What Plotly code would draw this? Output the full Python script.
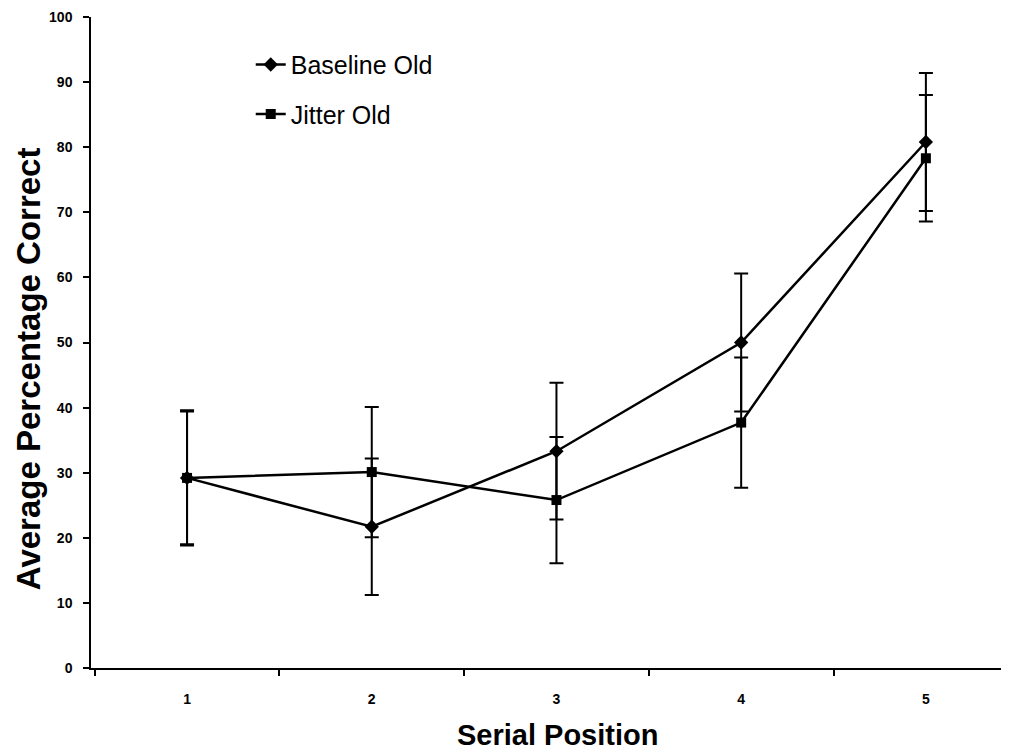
import plotly.graph_objects as go

positions = ["1", "2", "3", "4", "5"]
baseline_old = [29.2, 21.7, 33.3, 50.0, 80.8]
baseline_err = [10.4, 10.5, 10.5, 10.6, 10.6]
jitter_old = [29.2, 30.1, 25.8, 37.7, 78.3]
jitter_err = [10.2, 10.0, 9.7, 10.0, 9.7]
y_ticks = [0, 10, 20, 30, 40, 50, 60, 70, 80, 90, 100]

FONT = "Arial, Liberation Sans, Helvetica, sans-serif"

fig = go.Figure()
fig.add_trace(go.Scatter(
    x=positions, y=baseline_old, name="Baseline Old", mode="lines+markers",
    line=dict(color="black", width=2.5),
    marker=dict(symbol="diamond", size=11, color="black"),
    error_y=dict(type="data", array=baseline_err, visible=True,
                 color="black", thickness=2, width=7),
    legendgroup="a",
))
fig.add_trace(go.Scatter(
    x=positions, y=jitter_old, name="Jitter Old", mode="lines+markers",
    line=dict(color="black", width=2.5),
    marker=dict(symbol="square", size=10, color="black"),
    error_y=dict(type="data", array=jitter_err, visible=True,
                 color="black", thickness=2, width=7),
    legendgroup="b",
))

# page body has an 8px margin, so the figure is sized/offset to compensate
fig.update_layout(
    width=1001, height=745,
    margin=dict(l=83, r=0, t=9, b=85),
    paper_bgcolor="white", plot_bgcolor="white",
    font=dict(family=FONT, color="black"),
    showlegend=True,
    legend=dict(x=0.174, y=0.962, xanchor="left", yanchor="top",
                font=dict(size=25, family=FONT, color="black"),
                bgcolor="rgba(0,0,0,0)", traceorder="grouped",
                tracegroupgap=14, itemwidth=30),
    xaxis=dict(
        type="category", range=[-0.52, 4.45], automargin=False,
        showline=True, linecolor="black", linewidth=2,
        ticks="outside", tickson="boundaries", ticklen=6, tickwidth=1.5, tickcolor="black",
        showgrid=False, zeroline=False,
        tickfont=dict(size=14, family=FONT, weight="bold"),
        ticklabelstandoff=17,
    ),
    yaxis=dict(
        range=[0, 100], tickvals=y_ticks, automargin=False,
        showline=True, linecolor="black", linewidth=1.5,
        ticks="outside", ticklen=6, tickwidth=1.5, tickcolor="black",
        showgrid=False, zeroline=False,
        tickfont=dict(size=14, family=FONT, weight="bold"),
        ticklabelstandoff=8,
    ),
    annotations=[
        dict(text="<b>Average Percentage Correct</b>", xref="paper", yref="paper",
             x=-0.0686, y=0.459, xanchor="center", yanchor="middle", textangle=-90,
             showarrow=False, font=dict(size=33, family=FONT, color="black")),
        dict(text="<b>Serial Position</b>", xref="paper", yref="paper",
             x=0.508, y=-0.103, xanchor="center", yanchor="middle",
             showarrow=False, font=dict(size=29, family=FONT, color="black")),
    ],
)

fig.write_html("out.html")
